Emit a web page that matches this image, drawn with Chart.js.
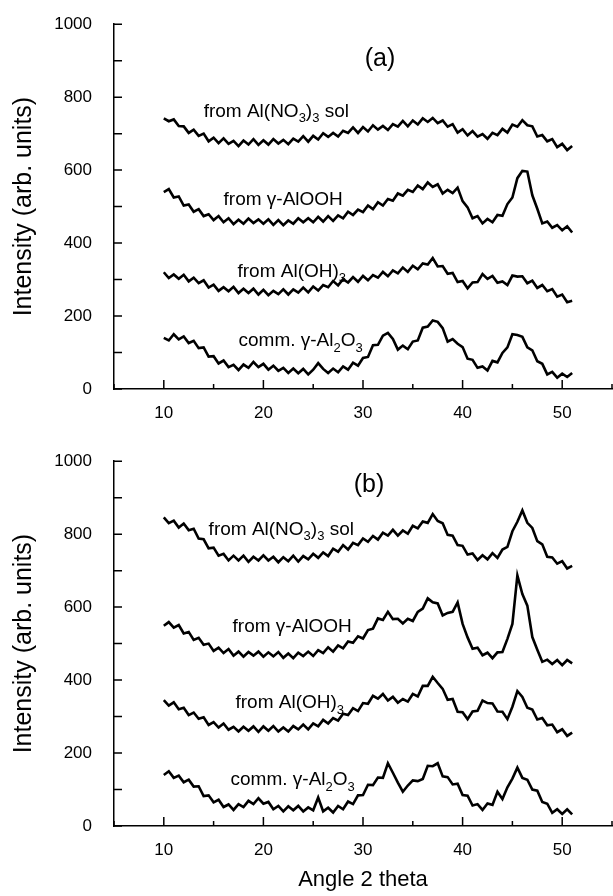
<!DOCTYPE html>
<html>
<head>
<meta charset="utf-8">
<script src="https://cdn.jsdelivr.net/npm/chart.js@4.4.1/dist/chart.umd.min.js"></script>
<style>
  html, body { margin: 0; padding: 0; background: #fff; }
  #wrap { position: relative; width: 613px; height: 896px; }
  canvas { position: absolute; left: 0; }
</style>
</head>
<body>
<div id="wrap">
  <canvas id="chart-a" width="613" height="437" style="top:0"></canvas>
  <canvas id="chart-b" width="613" height="459" style="top:437px"></canvas>
</div>
<script>
// 2 theta values, 0.5 deg step
const angles = [
  10, 10.5, 11, 11.5, 12, 12.5, 13, 13.5, 14, 14.5,
  15, 15.5, 16, 16.5, 17, 17.5, 18, 18.5, 19, 19.5,
  20, 20.5, 21, 21.5, 22, 22.5, 23, 23.5, 24, 24.5,
  25, 25.5, 26, 26.5, 27, 27.5, 28, 28.5, 29, 29.5,
  30, 30.5, 31, 31.5, 32, 32.5, 33, 33.5, 34, 34.5,
  35, 35.5, 36, 36.5, 37, 37.5, 38, 38.5, 39, 39.5,
  40, 40.5, 41, 41.5, 42, 42.5, 43, 43.5, 44, 44.5,
  45, 45.5, 46, 46.5, 47, 47.5, 48, 48.5, 49, 49.5,
  50, 50.5, 51
];

// panel (a)
const aNitrateSol = [
  742, 734, 739, 721, 720, 702, 711, 694, 700, 679,
  689, 674, 687, 672, 680, 666, 681, 670, 685, 669,
  682, 670, 685, 673, 683, 671, 686, 678, 693, 678,
  694, 684, 701, 691, 702, 692, 708, 702, 717, 702,
  718, 706, 723, 711, 721, 710, 726, 719, 735, 720,
  736, 725, 742, 732, 743, 729, 736, 719, 726, 703,
  712, 695, 707, 692, 699, 686, 702, 696, 713, 703,
  725, 719, 737, 723, 720, 692, 696, 679, 685, 663,
  672, 655, 666
];
const aBoehmite = [
  540, 548, 525, 528, 503, 506, 486, 493, 474, 479,
  463, 474, 457, 468, 452, 464, 453, 467, 455, 465,
  453, 465, 450, 463, 449, 462, 453, 468, 457, 468,
  457, 472, 459, 474, 461, 476, 468, 486, 477, 492,
  485, 503, 493, 512, 503, 521, 516, 536, 530, 546,
  540, 558, 548, 566, 554, 561, 536, 546, 537, 552,
  515, 498, 468, 474, 454, 466, 457, 477, 475, 507,
  525, 578, 598, 596, 531, 494, 454, 459, 442, 449,
  435, 446, 429
];
const aHydroxide = [
  320, 304, 314, 302, 313, 295, 305, 290, 298, 278,
  286, 269, 279, 268, 280, 263, 275, 263, 275, 259,
  272, 257, 269, 260, 273, 259, 273, 264, 278, 265,
  281, 270, 285, 279, 296, 284, 301, 292, 307, 294,
  310, 298, 312, 305, 321, 309, 325, 317, 333, 321,
  338, 328, 344, 341, 359, 336, 337, 316, 318, 293,
  296, 276, 292, 293, 315, 302, 310, 291, 295, 285,
  311, 308, 309, 290, 297, 277, 285, 268, 274, 253,
  259, 238, 242
];
const aCommercial = [
  140, 133, 150, 136, 144, 126, 132, 112, 114, 89,
  90, 70, 78, 60, 66, 52, 67, 58, 74, 60,
  69, 53, 64, 50, 58, 44, 56, 43, 55, 40,
  53, 71, 55, 44, 56, 46, 62, 53, 72, 64,
  85, 88, 120, 121, 146, 154, 137, 108, 119, 109,
  130, 133, 168, 171, 188, 184, 167, 130, 137, 124,
  115, 83, 80, 58, 62, 51, 77, 73, 99, 114,
  150, 148, 143, 114, 106, 76, 69, 40, 47, 31,
  42, 33, 44
];

// panel (b)
const bNitrateSol = [
  846, 830, 837, 818, 829, 811, 815, 788, 786, 761,
  763, 741, 746, 728, 741, 728, 741, 724, 738, 728,
  742, 728, 738, 723, 737, 726, 741, 725, 740, 731,
  746, 735, 750, 740, 760, 752, 770, 758, 776, 770,
  788, 779, 795, 785, 804, 796, 812, 796, 810, 801,
  823, 816, 835, 831, 855, 836, 830, 798, 796, 770,
  768, 744, 747, 729, 742, 731, 748, 735, 758, 765,
  808, 834, 865, 831, 817, 781, 772, 738, 736, 719,
  726, 706, 713
];
const bBoehmite = [
  549, 559, 544, 551, 528, 532, 510, 516, 497, 500,
  480, 489, 474, 485, 467, 478, 464, 477, 467, 478,
  464, 476, 465, 477, 461, 473, 460, 475, 466, 478,
  466, 482, 474, 490, 478, 495, 487, 506, 502, 520,
  514, 537, 541, 569, 565, 587, 567, 568, 555, 568,
  562, 587, 596, 624, 613, 610, 577, 584, 587, 613,
  554, 517, 486, 489, 468, 475, 460, 476, 477, 513,
  554, 687, 636, 604, 518, 483, 450, 456, 444, 455,
  441, 455, 446
];
const bHydroxide = [
  345, 330, 339, 320, 324, 304, 311, 294, 298, 277,
  285, 270, 281, 264, 272, 259, 272, 261, 273, 258,
  273, 261, 274, 259, 270, 259, 274, 265, 278, 265,
  281, 273, 291, 281, 296, 289, 308, 304, 323, 315,
  337, 335, 357, 349, 362, 344, 354, 338, 348, 341,
  362, 355, 384, 384, 409, 392, 376, 346, 348, 313,
  312, 293, 314, 316, 344, 337, 336, 314, 313, 293,
  327, 370, 354, 324, 319, 292, 296, 276, 278, 257,
  265, 247, 256
];
const bCommercial = [
  140, 150, 132, 138, 120, 127, 108, 109, 82, 84,
  65, 72, 52, 59, 44, 60, 52, 69, 60, 76,
  61, 66, 46, 55, 40, 54, 43, 55, 40, 51,
  43, 78, 40, 50, 37, 55, 46, 67, 60, 84,
  85, 113, 112, 133, 132, 172, 146, 119, 94, 111,
  125, 123, 129, 165, 164, 172, 136, 134, 114, 116,
  85, 83, 56, 60, 44, 62, 58, 94, 74, 106,
  130, 160, 132, 127, 100, 97, 66, 61, 36, 46,
  33, 46, 32
];

// curve names, pieces flagged 1 are subscripts
const sampleNames = [
  [["from Al(NO", 0], ["3", 1], [")", 0], ["3", 1], [" sol", 0]],
  [["from \u03b3-AlOOH", 0]],
  [["from Al(OH)", 0], ["3", 1]],
  [["comm. \u03b3-Al", 0], ["2", 1], ["O", 0], ["3", 1]]
];

const FONT = "'Liberation Sans', Arial, sans-serif";

function drawRich(ctx, parts, x, y) {
  ctx.textBaseline = "middle";
  ctx.textAlign = "left";
  for (const [txt, sub] of parts) {
    ctx.font = (sub ? "13px " : "19px ") + FONT;
    ctx.fillText(txt, x, sub ? y + 7 : y);
    x += ctx.measureText(txt).width;
  }
}

// inward tick marks + text labels
const decorPlugin = {
  id: "decor",
  afterDraw(chart, args, opts) {
    const ctx = chart.ctx;
    const xs = chart.scales.x;
    const ys = chart.scales.y;
    ctx.save();
    ctx.strokeStyle = "#000";
    ctx.lineWidth = 1.5;
    ctx.beginPath();
    for (const t of xs.ticks) {
      const px = xs.getPixelForValue(t.value);
      const len = t.value % 10 === 0 ? 9 : 5;
      ctx.moveTo(px, ys.bottom);
      ctx.lineTo(px, ys.bottom - len);
    }
    for (const t of ys.ticks) {
      const py = ys.getPixelForValue(t.value);
      ctx.moveTo(xs.left, py);
      ctx.lineTo(xs.left + 8, py);
    }
    ctx.stroke();

    ctx.fillStyle = "#000";
    opts.labels.forEach((lab, i) => {
      drawRich(ctx, sampleNames[i], xs.getPixelForValue(lab[0]), ys.getPixelForValue(lab[1]));
    });
    ctx.font = "25px " + FONT;
    ctx.textAlign = "center";
    ctx.textBaseline = "middle";
    ctx.fillText(opts.panel[0], xs.getPixelForValue(opts.panel[1]), ys.getPixelForValue(opts.panel[2]));
    ctx.restore();
  }
};

function makePanel(canvasId, series, xAxisHeight, showXTitle, labels, panel) {
  return new Chart(document.getElementById(canvasId), {
    type: "line",
    data: {
      datasets: series.map((vals) => ({
        data: vals.map((v, i) => ({ x: angles[i], y: v })),
        borderColor: "#000",
        borderWidth: 2.6,
        borderJoinStyle: "miter",
        pointRadius: 0,
        tension: 0,
        fill: false
      }))
    },
    options: {
      responsive: false,
      animation: false,
      devicePixelRatio: 1,
      layout: { padding: { top: 20, right: 1, left: 0, bottom: 0 } },
      plugins: {
        legend: { display: false },
        tooltip: { enabled: false },
        decor: { labels: labels, panel: panel }
      },
      scales: {
        x: {
          type: "linear",
          min: 5,
          max: 55,
          grid: { display: false },
          border: { display: true, color: "#000", width: 1.5 },
          ticks: {
            stepSize: 5,
            autoSkip: false,
            maxRotation: 0,
            padding: 6,
            color: "#000",
            font: { family: FONT, size: 17 },
            callback: (v) => (v % 10 === 0 && v >= 10 && v <= 50 ? v : "")
          },
          title: {
            display: showXTitle,
            text: "Angle 2 theta",
            color: "#000",
            font: { family: FONT, size: 22 },
            padding: { top: 0, bottom: 3 }
          },
          afterFit: (s) => {
            s.height = xAxisHeight;
            s.paddingLeft = 0;
            s.paddingRight = 0;
          }
        },
        y: {
          min: 0,
          max: 1000,
          grid: { display: false },
          border: { display: true, color: "#000", width: 1.5 },
          ticks: {
            stepSize: 100,
            padding: 14,
            color: "#000",
            font: { family: FONT, size: 17 },
            callback: (v) => (v % 200 === 0 ? v : "")
          },
          title: {
            display: true,
            text: "Intensity (arb. units)",
            color: "#000",
            font: { family: FONT, size: 25 },
            padding: { top: 9, bottom: 0 }
          },
          afterFit: (s) => { s.width = 114; }
        }
      }
    },
    plugins: [decorPlugin]
  });
}

makePanel("chart-a", [aNitrateSol, aBoehmite, aHydroxide, aCommercial], 48, false,
  [[14.0, 761], [16.0, 520], [17.4, 322], [17.5, 131]], ["(a)", 31.7, 905]);
makePanel("chart-b", [bNitrateSol, bBoehmite, bHydroxide, bCommercial], 70, true,
  [[14.5, 812], [16.9, 545], [17.2, 337], [16.7, 126]], ["(b)", 30.6, 935]);
</script>
</body>
</html>
